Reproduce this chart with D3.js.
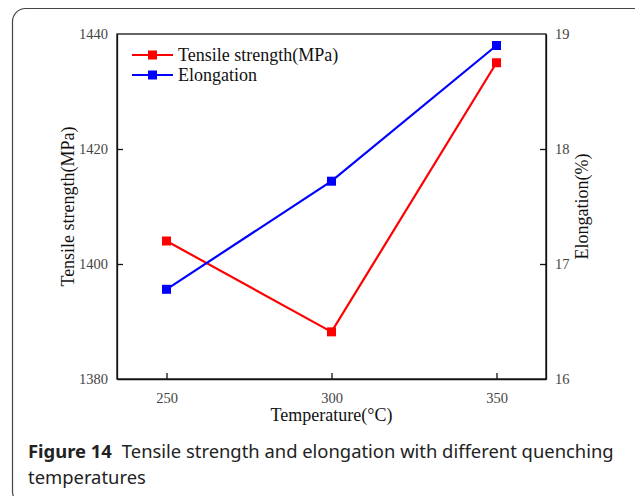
<!DOCTYPE html>
<html>
<head>
<meta charset="utf-8">
<script src="https://cdn.jsdelivr.net/npm/d3@7"></script>
<style>
  body { margin: 0; background: #fff; }
  .tick text { font-family: "Liberation Serif", "Times New Roman", serif; font-size: 14.5px; fill: #444; }
  .axis-title { font-family: "Liberation Serif", "Times New Roman", serif; font-size: 18px; fill: #111; }
  .caption { font-family: "Noto Sans", "Open Sans", sans-serif; font-size: 18.4px; fill: #222; }
</style>
</head>
<body>
<svg id="chart" width="635" height="496"></svg>
<script>
const temperatures = [250, 300, 350];
const tensileStrength = [1404, 1388.2, 1435];
const elongation = [16.78, 17.72, 18.9];
const xTicks = [250, 300, 350];
const leftTicks = [1380, 1400, 1420, 1440];
const rightTicks = [16, 17, 18, 19];
const seriesNames = ["Tensile strength(MPa)", "Elongation"];

const svg = d3.select("#chart");
const W = 635, H = 496;
const plot = { left: 117, right: 546, top: 34, bottom: 379 };

// card frame
svg.append("rect")
    .attr("x", 12.5).attr("y", 8.5)
    .attr("width", W + 10).attr("height", H)
    .attr("rx", 13)
    .attr("fill", "#fff")
    .attr("stroke", "#444")
    .attr("stroke-width", 1.2);

const x = d3.scaleLinear().domain([235, 365]).range([plot.left, plot.right]);
const yL = d3.scaleLinear().domain([1380, 1440]).range([plot.bottom, plot.top]);
const yR = d3.scaleLinear().domain([16, 19]).range([plot.bottom, plot.top]);

const g = svg.append("g");

// frame of plot
g.append("rect")
    .attr("x", plot.left).attr("y", plot.top)
    .attr("width", plot.right - plot.left)
    .attr("height", plot.bottom - plot.top)
    .attr("fill", "none")
    .attr("stroke", "#111")
    .attr("stroke-width", 1.3);

const xAxis = g.append("g")
    .attr("transform", `translate(0,${plot.bottom})`)
    .call(d3.axisBottom(x).tickValues(xTicks).tickFormat(d3.format("d"))
        .tickSizeInner(-6).tickSizeOuter(0).tickPadding(14));
const leftAxis = g.append("g")
    .attr("transform", `translate(${plot.left},0)`)
    .call(d3.axisLeft(yL).tickValues(leftTicks).tickFormat(d3.format("d"))
        .tickSizeInner(-6).tickSizeOuter(0).tickPadding(9));
const rightAxis = g.append("g")
    .attr("transform", `translate(${plot.right},0)`)
    .call(d3.axisRight(yR).tickValues(rightTicks).tickFormat(d3.format("d"))
        .tickSizeInner(-6).tickSizeOuter(0).tickPadding(9));

[xAxis, leftAxis, rightAxis].forEach(a => {
    a.select(".domain").attr("stroke", "#111").attr("stroke-width", 1.3);
    a.selectAll(".tick line").attr("stroke", "#111").attr("stroke-width", 1.3);
});
// end ticks sit on the frame
leftAxis.selectAll(".tick line").filter(d => d === 1380 || d === 1440).remove();
rightAxis.selectAll(".tick line").filter(d => d === 16 || d === 19).remove();

// series
const series = [
    { name: seriesNames[0], color: "#ff0000", values: tensileStrength, y: yL },
    { name: seriesNames[1], color: "#0000ff", values: elongation, y: yR }
];

series.forEach(s => {
    const pts = temperatures.map((t, i) => [x(t), s.y(s.values[i])]);
    g.append("path")
        .attr("d", d3.line()(pts))
        .attr("fill", "none")
        .attr("stroke", s.color)
        .attr("stroke-width", 2.2);
    g.selectAll(null).data(pts).join("rect")
        .attr("x", d => d[0] - 4.5).attr("y", d => d[1] - 4.5)
        .attr("width", 9).attr("height", 9)
        .attr("fill", s.color);
});

// legend
const legend = g.append("g").attr("transform", "translate(132,55)");
series.forEach((s, i) => {
    const row = legend.append("g").attr("transform", `translate(0,${i * 20})`);
    row.append("line").attr("x1", 0).attr("x2", 41).attr("y1", 0).attr("y2", 0)
        .attr("stroke", s.color).attr("stroke-width", 2.2);
    row.append("rect").attr("x", 16).attr("y", -4.5).attr("width", 9).attr("height", 9)
        .attr("fill", s.color);
    row.append("text").attr("class", "axis-title")
        .attr("x", 46).attr("y", 6)
        .text(s.name);
});

// axis titles
g.append("text").attr("class", "axis-title")
    .attr("text-anchor", "middle")
    .attr("transform", `translate(74,${(plot.top + plot.bottom) / 2}) rotate(-90)`)
    .text("Tensile strength(MPa)");
g.append("text").attr("class", "axis-title")
    .attr("text-anchor", "middle")
    .attr("transform", `translate(588,${(plot.top + plot.bottom) / 2}) rotate(-90)`)
    .text("Elongation(%)");
g.append("text").attr("class", "axis-title")
    .attr("text-anchor", "middle")
    .attr("x", x(300)).attr("y", 421)
    .text("Temperature(°C)");

// caption
const cap = svg.append("text").attr("class", "caption").attr("x", 28).attr("y", 458);
cap.append("tspan").attr("font-weight", "bold").text("Figure 14");
cap.append("tspan").attr("dx", 10).text("Tensile strength and elongation with different quenching");
svg.append("text").attr("class", "caption").attr("x", 28).attr("y", 484).text("temperatures");
</script>
</body>
</html>
